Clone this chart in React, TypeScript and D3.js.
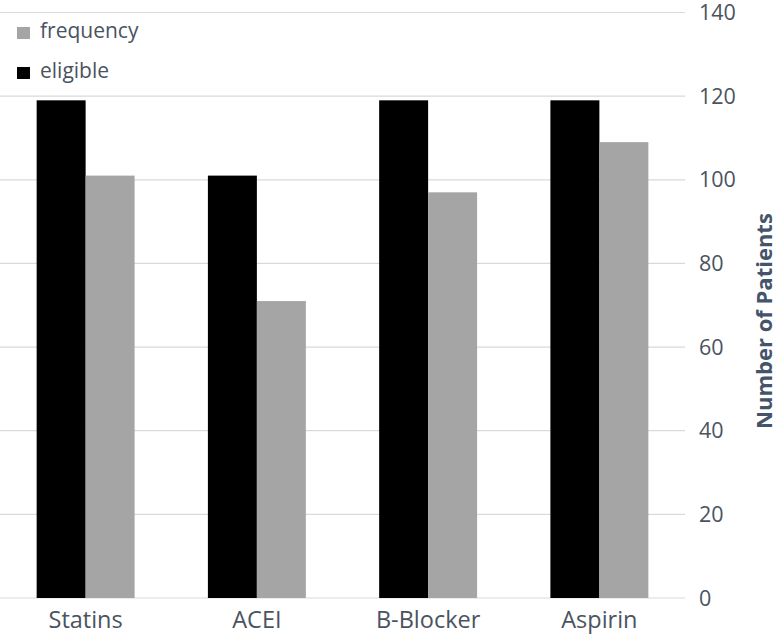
import React from "react";
import * as d3 from "d3";

const categories = ["Statins", "ACEI", "B-Blocker", "Aspirin"];
const seriesNames = ["eligible", "frequency"];
const eligible = [119, 101, 119, 119];
const frequency = [101, 71, 97, 109];
const yTicks = [0, 20, 40, 60, 80, 100, 120, 140];

const W = 780;
const H = 636;
const FONT = "'Open Sans', 'Noto Sans', sans-serif";
const TEXT = "#4a5360";

export default function App() {
  const x0 = d3
    .scaleBand<string>()
    .domain(categories)
    .range([0, 685])
    .paddingInner(0.428)
    .paddingOuter(0.214);
  const x1 = d3
    .scaleBand<string>()
    .domain(seriesNames)
    .range([0, x0.bandwidth()]);
  const y = d3.scaleLinear().domain([0, 140]).range([598, 12.5]);
  const color = d3
    .scaleOrdinal<string, string>()
    .domain(seriesNames)
    .range(["#000000", "#a5a5a5"]);
  const values: Record<string, number[]> = { eligible, frequency };

  return (
    <svg
      width={W}
      height={H}
      style={{ position: "absolute", left: 0, top: 0, background: "#fff" }}
      fontFamily={FONT}
    >
      {yTicks.map((t) => (
        <g key={t}>
          <line x1={0} x2={685} y1={y(t)} y2={y(t)} stroke="#d9d9d9" strokeWidth={1.2} />
          <text x={699} y={y(t) + 7.5} fontSize={21.5} fill={TEXT}>
            {t}
          </text>
        </g>
      ))}
      {categories.map((c, i) => (
        <g key={c} transform={`translate(${x0(c)},0)`}>
          {seriesNames.map((s) => (
            <rect
              key={s}
              x={x1(s)}
              y={y(values[s][i])}
              width={x1.bandwidth()}
              height={y(0) - y(values[s][i])}
              fill={color(s)}
            />
          ))}
          <text
            x={x0.bandwidth() / 2}
            y={628}
            textAnchor="middle"
            fontSize={23.5}
            fill={TEXT}
          >
            {c}
          </text>
        </g>
      ))}
      {/* legend */}
      {["frequency", "eligible"].map((s, i) => (
        <g key={s} transform={`translate(17,${27 + i * 40})`}>
          <rect x={0} y={0} width={13} height={12} fill={color(s)} />
          <text x={23} y={10.5} fontSize={21} fill={TEXT}>
            {s}
          </text>
        </g>
      ))}
      <text
        transform={`translate(772,321) rotate(-90)`}
        textAnchor="middle"
        fontSize={22}
        fontWeight="bold"
        fill="#44546a"
      >
        Number of Patients
      </text>
    </svg>
  );
}
